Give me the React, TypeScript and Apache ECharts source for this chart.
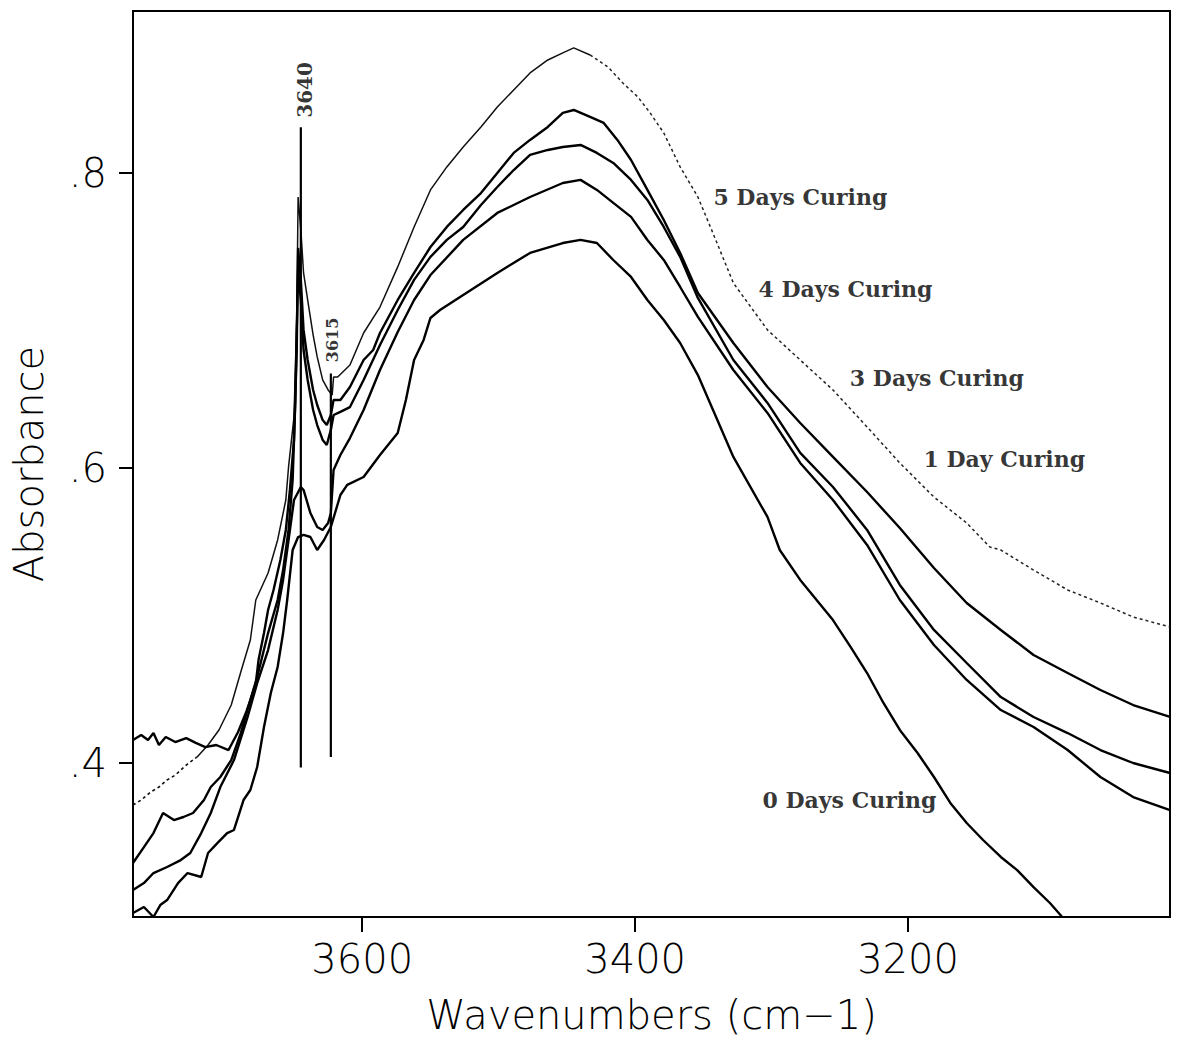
import React, { useEffect, useRef } from "react";
import * as echarts from "echarts";

// ---- axis ticks ----
const wavenumberTicks = [3600, 3400, 3200];
const absorbanceTicks = [0.4, 0.6, 0.8];
const wavenumberRange = [3008, 3768];
const absorbanceRange = [0.2956, 0.9098];

// ---- spectra: [wavenumber (cm-1), absorbance] ----
const days5: [number, number][] = [
  [3768, 0.3715], [3762, 0.3749], [3755, 0.3803], [3749, 0.3837], [3743, 0.3885], [3737, 0.3918],
  [3729, 0.3986], [3721, 0.4041], [3713, 0.4122], [3705, 0.4224], [3696, 0.4393], [3689, 0.4617],
  [3682, 0.4834], [3678, 0.5105], [3669, 0.5288], [3662, 0.5512], [3656, 0.5783], [3654, 0.6007],
  [3650, 0.6346], [3648, 0.7003], [3647, 0.7837], [3645, 0.7614], [3643, 0.7322], [3640, 0.7139],
  [3636, 0.6902], [3633, 0.6753], [3629, 0.6597], [3625, 0.6529], [3622, 0.6495], [3621, 0.6617],
  [3618, 0.6617], [3609, 0.6698], [3599, 0.6915], [3587, 0.7091], [3574, 0.7363], [3562, 0.7634],
  [3550, 0.7885], [3538, 0.8041], [3526, 0.8176], [3513, 0.8312], [3501, 0.8447], [3489, 0.8563],
  [3477, 0.8678], [3464, 0.8766], [3453, 0.8814], [3445, 0.8848], [3433, 0.8800], [3420, 0.8719],
  [3409, 0.8610], [3398, 0.8515], [3389, 0.8407], [3379, 0.8271], [3367, 0.8041], [3354, 0.7837],
  [3343, 0.7593], [3328, 0.7254], [3303, 0.6936], [3279, 0.6732], [3255, 0.6529], [3230, 0.6278],
  [3206, 0.6034], [3181, 0.5803], [3157, 0.5627], [3140, 0.5464], [3132, 0.5444], [3108, 0.5308],
  [3083, 0.5173], [3059, 0.5085], [3035, 0.4990], [3008, 0.4922],
];

const days4: [number, number][] = [
  [3768, 0.4156], [3762, 0.4190], [3757, 0.4156], [3753, 0.4203], [3749, 0.4122], [3744, 0.4176],
  [3737, 0.4142], [3729, 0.4169], [3722, 0.4136], [3715, 0.4108], [3707, 0.4122], [3698, 0.4088],
  [3691, 0.4210], [3685, 0.4346], [3682, 0.4427], [3678, 0.4542], [3676, 0.4698], [3672, 0.4881],
  [3669, 0.5037], [3665, 0.5173], [3660, 0.5376], [3656, 0.5580], [3653, 0.5851], [3650, 0.6190],
  [3648, 0.6800], [3647, 0.7492], [3645, 0.7275], [3643, 0.6936], [3640, 0.6732], [3636, 0.6529],
  [3633, 0.6427], [3629, 0.6325], [3626, 0.6291], [3623, 0.6359], [3621, 0.6461], [3616, 0.6461],
  [3609, 0.6549], [3599, 0.6732], [3592, 0.6800], [3587, 0.6915], [3574, 0.7139], [3562, 0.7322],
  [3550, 0.7498], [3538, 0.7634], [3526, 0.7749], [3513, 0.7864], [3501, 0.8000], [3489, 0.8136],
  [3477, 0.8224], [3464, 0.8312], [3453, 0.8407], [3445, 0.8427], [3433, 0.8380], [3423, 0.8339],
  [3413, 0.8224], [3403, 0.8088], [3391, 0.7885], [3379, 0.7681], [3367, 0.7458], [3354, 0.7186],
  [3328, 0.6847], [3303, 0.6549], [3279, 0.6305], [3255, 0.6075], [3230, 0.5837], [3206, 0.5593],
  [3181, 0.5322], [3157, 0.5085], [3132, 0.4902], [3108, 0.4732], [3083, 0.4610], [3059, 0.4495],
  [3035, 0.4393], [3008, 0.4312],
];

const days3: [number, number][] = [
  [3768, 0.3322], [3760, 0.3430], [3753, 0.3525], [3746, 0.3661], [3738, 0.3613], [3731, 0.3634],
  [3724, 0.3661], [3716, 0.3749], [3711, 0.3837], [3704, 0.3905], [3696, 0.4020], [3689, 0.4203],
  [3682, 0.4427], [3677, 0.4583], [3669, 0.4881], [3662, 0.5105], [3658, 0.5308], [3654, 0.5580],
  [3651, 0.5919], [3649, 0.6461], [3648, 0.6936], [3647, 0.7342], [3645, 0.7139], [3643, 0.6800],
  [3640, 0.6597], [3636, 0.6393], [3633, 0.6291], [3629, 0.6190], [3626, 0.6156], [3623, 0.6258],
  [3621, 0.6359], [3616, 0.6380], [3609, 0.6413], [3599, 0.6597], [3587, 0.6834], [3574, 0.7071],
  [3562, 0.7275], [3550, 0.7431], [3538, 0.7546], [3526, 0.7634], [3513, 0.7783], [3501, 0.7905],
  [3489, 0.8020], [3477, 0.8122], [3464, 0.8156], [3453, 0.8176], [3440, 0.8190], [3428, 0.8136],
  [3416, 0.8068], [3403, 0.7953], [3391, 0.7817], [3379, 0.7634], [3367, 0.7431], [3354, 0.7153],
  [3328, 0.6732], [3303, 0.6441], [3279, 0.6102], [3255, 0.5871], [3230, 0.5580], [3206, 0.5207],
  [3181, 0.4902], [3157, 0.4678], [3132, 0.4447], [3108, 0.4312], [3083, 0.4203], [3059, 0.4088],
  [3035, 0.4000], [3008, 0.3932],
];

const days1: [number, number][] = [
  [3768, 0.3139], [3760, 0.3186], [3753, 0.3254], [3743, 0.3295], [3733, 0.3342], [3726, 0.3390],
  [3718, 0.3525], [3711, 0.3661], [3704, 0.3837], [3694, 0.4020], [3684, 0.4312], [3677, 0.4542],
  [3669, 0.4766], [3662, 0.5037], [3658, 0.5241], [3654, 0.5512], [3650, 0.5783], [3645, 0.5871],
  [3643, 0.5851], [3638, 0.5695], [3633, 0.5600], [3629, 0.5580], [3625, 0.5627], [3623, 0.5695],
  [3621, 0.5986], [3616, 0.6088], [3609, 0.6203], [3599, 0.6393], [3587, 0.6664], [3574, 0.6922],
  [3562, 0.7139], [3550, 0.7308], [3526, 0.7546], [3501, 0.7729], [3477, 0.7837], [3453, 0.7932],
  [3440, 0.7953], [3428, 0.7885], [3416, 0.7797], [3403, 0.7702], [3391, 0.7546], [3379, 0.7410],
  [3367, 0.7227], [3354, 0.7024], [3328, 0.6664], [3303, 0.6373], [3279, 0.6034], [3255, 0.5783],
  [3230, 0.5478], [3206, 0.5105], [3181, 0.4800], [3157, 0.4563], [3132, 0.4359], [3108, 0.4244],
  [3083, 0.4088], [3059, 0.3905], [3035, 0.3769], [3008, 0.3681],
];

const days0: [number, number][] = [
  [3768, 0.2983], [3760, 0.3024], [3753, 0.2956], [3748, 0.3037], [3743, 0.3071], [3735, 0.3186],
  [3728, 0.3254], [3718, 0.3227], [3713, 0.3390], [3706, 0.3458], [3699, 0.3525], [3694, 0.3546],
  [3687, 0.3749], [3682, 0.3817], [3677, 0.3973], [3672, 0.4244], [3667, 0.4475], [3662, 0.4651],
  [3658, 0.4881], [3655, 0.5105], [3651, 0.5444], [3647, 0.5532], [3643, 0.5546], [3638, 0.5532],
  [3633, 0.5444], [3628, 0.5512], [3623, 0.5600], [3616, 0.5817], [3611, 0.5885], [3599, 0.5939],
  [3587, 0.6088], [3574, 0.6237], [3568, 0.6461], [3562, 0.6732], [3555, 0.6868], [3550, 0.7017],
  [3543, 0.7071], [3526, 0.7173], [3501, 0.7322], [3477, 0.7458], [3453, 0.7525], [3440, 0.7546],
  [3428, 0.7525], [3416, 0.7410], [3403, 0.7295], [3391, 0.7139], [3379, 0.7003], [3367, 0.6847],
  [3354, 0.6630], [3328, 0.6075], [3303, 0.5668], [3294, 0.5444], [3279, 0.5241], [3255, 0.4969],
  [3242, 0.4786], [3230, 0.4610], [3218, 0.4407], [3206, 0.4224], [3193, 0.4068], [3181, 0.3905],
  [3169, 0.3729], [3157, 0.3593], [3145, 0.3478], [3132, 0.3363], [3120, 0.3274], [3108, 0.3159],
  [3096, 0.3051], [3087, 0.2956],
];

// ---- peak markers ----
const markerNames = ["3640", "3615"];
const markerWavenumbers = [3645, 3623];
const markerBottoms = [0.397, 0.404];
const markerTops = [0.831, 0.664];
const markerLabelAnchors: [number, number][] = [[3642, 0.8563], [3622, 0.6868]];
const markerLabelSizes = [20, 16];

// ---- curve labels ----
const curveNames = ["5 Days Curing", "4 Days Curing", "3 Days Curing", "1 Day Curing", "0 Days Curing"];
const curveLabelAnchors: [number, number][] = [
  [3343, 0.7837], [3310, 0.7214], [3243, 0.661], [3189, 0.6061], [3307, 0.3749],
];

const AXIS_FONT = "'DejaVu Sans', sans-serif";
const LABEL_FONT = "'DejaVu Serif', 'Liberation Serif', serif";

export default function App() {
  const ref = useRef<HTMLDivElement>(null);

  useEffect(() => {
    if (!ref.current) return;
    const chart = echarts.init(ref.current, undefined, { renderer: "svg" });

    const solid = { color: "#000", width: 2.4 };
    const lineSeries = (name: string, data: [number, number][], style: any) => ({
      type: "line",
      name,
      data,
      showSymbol: false,
      symbol: "none",
      silent: true,
      lineStyle: style,
      z: 3,
    });

    const fiveMain = days5.filter((d) => d[0] <= 3722 && d[0] >= 3433);
    const fiveLeft = days5.filter((d) => d[0] >= 3721);
    const fiveRight = days5.filter((d) => d[0] <= 3433);

    const series: any[] = [
      lineSeries(curveNames[0], fiveMain, { color: "#111", width: 1.5 }),
      lineSeries(curveNames[0] + " (a)", fiveLeft, { color: "#111", width: 1.6, type: [3, 3] }),
      lineSeries(curveNames[0] + " (b)", fiveRight, { color: "#222", width: 1.5, type: [3, 3] }),
      lineSeries(curveNames[1], days4, solid),
      lineSeries(curveNames[2], days3, solid),
      lineSeries(curveNames[3], days1, solid),
      lineSeries(curveNames[4], days0, solid),
    ];

    markerNames.forEach((n, i) => {
      series.push(
        lineSeries("marker " + n, [
          [markerWavenumbers[i], markerBottoms[i]],
          [markerWavenumbers[i], markerTops[i]],
        ], { color: "#000", width: 2.2 })
      );
      series.push({
        type: "scatter",
        name: "marker label " + n,
        silent: true,
        symbolSize: 1,
        itemStyle: { color: "transparent" },
        data: [markerLabelAnchors[i]],
        label: {
          show: true,
          position: "inside",
          rotate: 90,
          formatter: n,
          color: "#000",
          fontFamily: LABEL_FONT,
          fontWeight: "bold",
          fontSize: markerLabelSizes[i],
        },
      });
    });

    curveNames.forEach((n, i) => {
      series.push({
        type: "scatter",
        name: "label " + n,
        silent: true,
        symbolSize: 1,
        itemStyle: { color: "transparent" },
        data: [curveLabelAnchors[i]],
        label: {
          show: true,
          position: "right",
          distance: 0,
          formatter: n,
          color: "#000",
          fontFamily: LABEL_FONT,
          fontWeight: "bold",
          fontSize: 22,
        },
      });
    });

    chart.setOption({
      animation: false,
      backgroundColor: "#fff",
      grid: {
        left: 133,
        right: 11,
        top: 11,
        bottom: 126,
        show: true,
        borderColor: "#000",
        borderWidth: 2,
        backgroundColor: "transparent",
      },
      xAxis: {
        type: "value",
        inverse: true,
        min: wavenumberRange[0],
        max: wavenumberRange[1],
        name: "Wavenumbers (cm\u22121)",
        nameLocation: "middle",
        nameGap: 78,
        nameTextStyle: { fontFamily: AXIS_FONT, fontSize: 40, fontWeight: 200, color: "#000" },
        axisLine: { show: true, lineStyle: { color: "#000", width: 2 } },
        axisTick: {
          show: true,
          inside: false,
          length: 15,
          customValues: wavenumberTicks,
          lineStyle: { color: "#000", width: 2 },
        },
        axisLabel: {
          customValues: wavenumberTicks,
          margin: 22,
          color: "#000",
          fontFamily: AXIS_FONT,
          fontWeight: 200,
          fontSize: 40,
          formatter: (v: number) => String(v),
        },
        splitLine: { show: false },
      },
      yAxis: {
        type: "value",
        min: absorbanceRange[0],
        max: absorbanceRange[1],
        name: "Absorbance",
        nameLocation: "middle",
        nameRotate: 90,
        nameGap: 84,
        nameTextStyle: { fontFamily: AXIS_FONT, fontSize: 40, fontWeight: 200, color: "#000" },
        axisLine: { show: true, lineStyle: { color: "#000", width: 2 } },
        axisTick: {
          show: true,
          inside: false,
          length: 14,
          customValues: absorbanceTicks,
          lineStyle: { color: "#000", width: 2 },
        },
        axisLabel: {
          customValues: absorbanceTicks,
          margin: 26,
          color: "#000",
          fontFamily: AXIS_FONT,
          fontWeight: 200,
          fontSize: 40,
          formatter: (v: number) => v.toFixed(1).replace(/^0/, ""),
        },
        splitLine: { show: false },
      },
      series,
    });

    return () => chart.dispose();
  }, []);

  return (
    <div
      ref={ref}
      style={{ position: "fixed", left: 0, top: 0, width: 1181, height: 1043, background: "#fff" }}
    />
  );
}
